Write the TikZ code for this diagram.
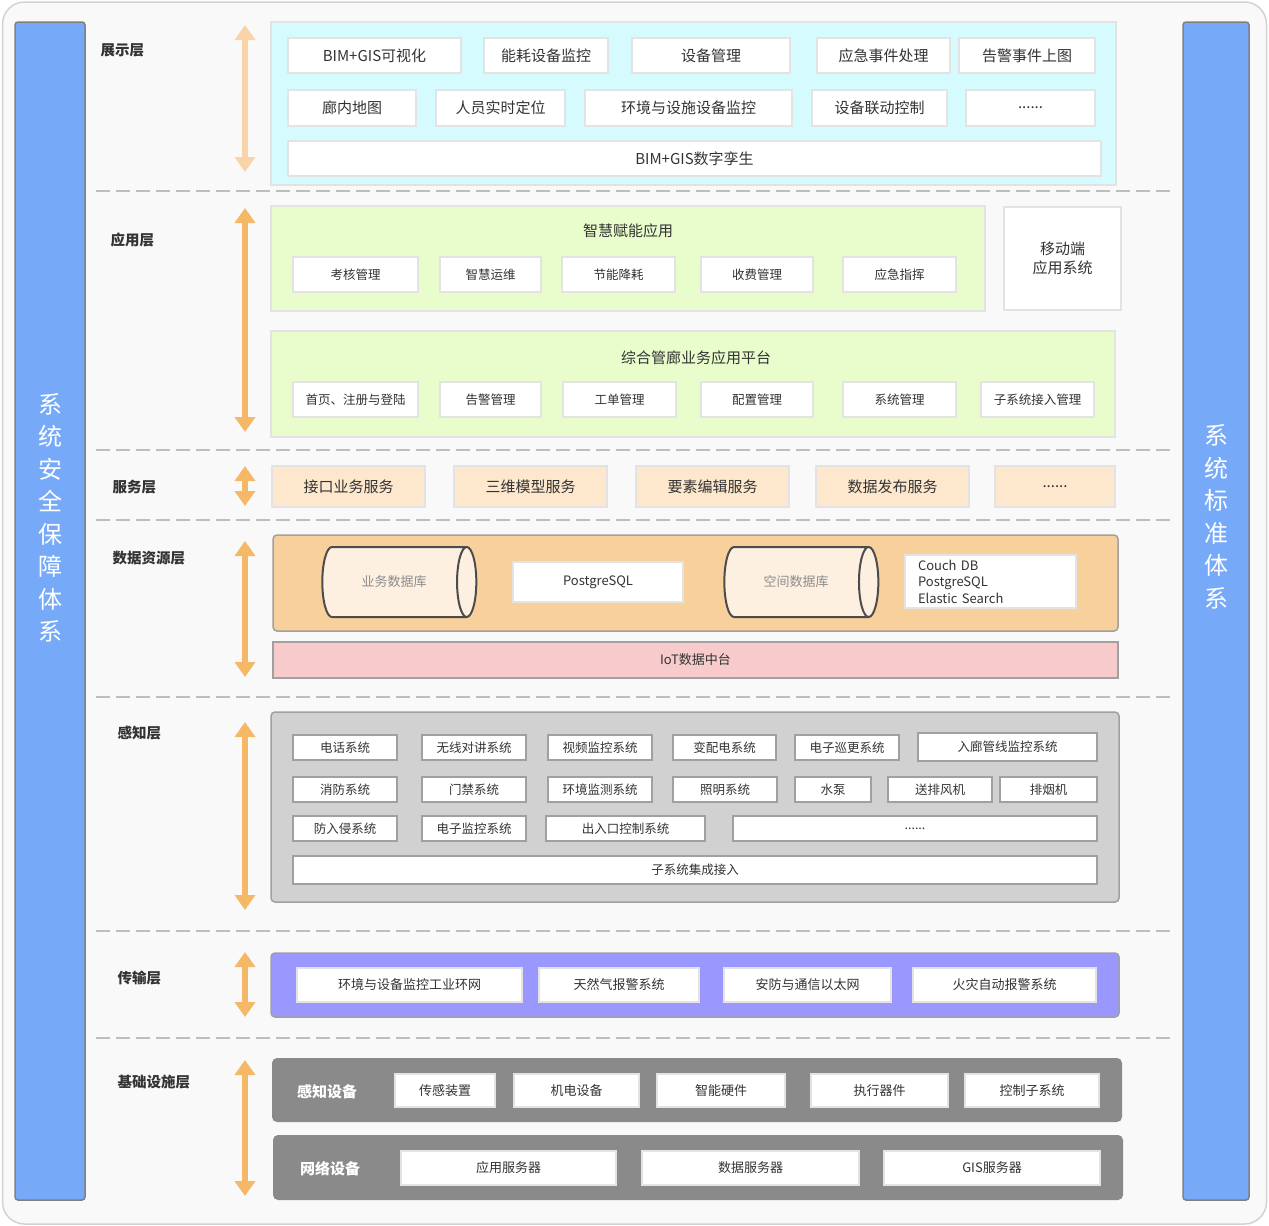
\documentclass[tikz,border=0pt]{standalone}
\usepackage{fontspec}
\setmainfont{Noto Sans CJK SC}
\usetikzlibrary{arrows.meta,shapes.geometric}

\definecolor{bgcol}{HTML}{F9F9F9}
\definecolor{framecol}{HTML}{D2D2D2}
\definecolor{barblue}{HTML}{76AAF9}
\definecolor{bargray}{HTML}{808080}
\definecolor{showcyan}{HTML}{D6FBFE}
\definecolor{appgreen}{HTML}{E9FDCC}
\definecolor{svcpeach}{HTML}{FDE7CD}
\definecolor{dataorange}{HTML}{F8D09B}
\definecolor{cylfill}{HTML}{FDF0E1}
\definecolor{iotpink}{HTML}{F7CBCB}
\definecolor{sensegray}{HTML}{D1D1D1}
\definecolor{netpurple}{HTML}{9A98FE}
\definecolor{infragray}{HTML}{8A8A8A}
\definecolor{arrorange}{HTML}{F4B867}
\definecolor{arrlight}{HTML}{F8D4A8}
\definecolor{lightline}{HTML}{E3E3E3}
\definecolor{darkline}{HTML}{A0A0A0}
\definecolor{sepgray}{HTML}{BDBDBD}
\definecolor{txt}{HTML}{333333}
\newcommand\moredots{......}

\begin{document}
\begin{tikzpicture}[x=1pt,y=-1pt,
    panel/.style={rectangle,inner sep=0pt,line width=1.5pt},
    wbox/.style={rectangle,draw=lightline,fill=white,line width=2pt,inner sep=0pt,text=txt,font=\fontsize{15}{18}\selectfont},
    sbox/.style={wbox,font=\fontsize{12.5}{15}\selectfont},
    gbox/.style={wbox,draw=darkline,font=\fontsize{12.5}{15}\selectfont},
    layer/.style={anchor=west,text=txt,font=\bfseries\fontsize{14.5}{17}\selectfont},
    updown/.style={{Triangle[width=20pt,length=15pt]}-{Triangle[width=20pt,length=15pt]},line width=6pt,draw=arrorange},
    sepline/.style={draw=sepgray,line width=2pt,dash pattern=on 14pt off 6pt},
    sidebar/.style={rectangle,draw=bargray,fill=barblue,line width=1.5pt,rounded corners=3pt,minimum width=70pt,minimum height=1178pt},
    db/.style={cylinder,draw=black!70,fill=cylfill,line width=2pt,aspect=1.6,minimum height=154pt,minimum width=70pt,inner sep=0pt,text=black!45,font=\fontsize{13}{15}\selectfont}]

    \useasboundingbox (0,0) rectangle (1269,1226);
    \node[rectangle,draw=framecol,fill=bgcol,line width=1.5pt,rounded corners=22pt,minimum width=1264pt,minimum height=1222pt] (frame) at (634.5,613) {};

    % side bars
    \node[sidebar] (safety) at (50,611) {};
    \node[sidebar,minimum width=66pt] (standard) at (1216,611) {};
    \node[text=white,align=center,font=\fontsize{24}{32.5}\selectfont] (safetytxt) at (50,518) {系\\统\\安\\全\\保\\障\\体\\系};
    \node[text=white,align=center,font=\fontsize{24}{32.5}\selectfont] (standardtxt) at (1216,517) {系\\统\\标\\准\\体\\系};

    % layer names
    \node[layer] (lshow) at (97,50) {展示层};
    \node[layer] (lapp) at (107,240) {应用层};
    \node[layer] (lsvc) at (109,487) {服务层};
    \node[layer] (ldata) at (109,558) {数据资源层};
    \node[layer] (lsense) at (114,733) {感知层};
    \node[layer] (lnet) at (114,978) {传输层};
    \node[layer] (linfra) at (114,1082) {基础设施层};

    % separators
    \foreach \y [count=\i] in {191,450,520,697,931,1038} {
        \coordinate (sepL\i) at (96,\y);
        \coordinate (sepR\i) at (1170,\y);
        \draw[sepline] (sepL\i) -- (sepR\i);
    }

    % layer arrows
    \foreach \a/\b [count=\i] in {25/172,208/432,466/506,541/677,722/910,952/1017,1060/1196} {
        \coordinate (arrT\i) at (245,\a);
        \coordinate (arrB\i) at (245,\b);
    }
    \draw[updown,draw=arrlight] (arrT1) -- (arrB1);
    \foreach \i in {2,...,7} \draw[updown] (arrT\i) -- (arrB\i);

    % presentation layer
    \node[panel,draw=lightline,fill=showcyan,minimum width=845pt,minimum height=163pt] (show) at (693.5,103.5) {};
    \foreach \n/\cx/\w/\t in {d1/374.5/173/BIM+GIS可视化,d2/546/124/能耗设备监控,d3/711/158/设备管理,d4/883.5/133/应急事件处理,d5/1027/136/告警事件上图}
        \node[wbox,minimum width=\w,minimum height=35pt] (\n) at (\cx,55.5) {\t};
    \foreach \n/\cx/\w/\t in {d6/352/128/廊内地图,d7/500.5/129/人员实时定位,d8/688.5/207/环境与设施设备监控,d9/879.5/135/设备联动控制,d10/1030.5/129/\moredots}
        \node[wbox,minimum width=\w,minimum height=36pt] (\n) at (\cx,108) {\t};
    \node[wbox,minimum width=813pt,minimum height=35pt] (twin) at (694.5,158.5) {BIM+GIS数字孪生};

    % application layer
    \node[panel,draw=lightline,fill=appgreen,minimum width=714pt,minimum height=105pt] (smart) at (628,258.5) {};
    \node[text=txt,font=\fontsize{15}{18}\selectfont] (smarttitle) at (628,231) {智慧赋能应用};
    \foreach \n/\cx/\w/\t in {a1/355.5/125/考核管理,a2/490.5/101/智慧运维,a3/618.5/113/节能降耗,a4/757/112/收费管理,a5/899.5/113/应急指挥}
        \node[sbox,minimum width=\w,minimum height=35pt] (\n) at (\cx,274.5) {\t};
    \node[wbox,align=center,minimum width=117pt,minimum height=103pt,font=\fontsize{15}{19}\selectfont] (mobile) at (1062.5,258.5) {移动端\\应用系统};
    \node[panel,draw=lightline,fill=appgreen,minimum width=844pt,minimum height=106pt] (platform) at (693,384) {};
    \node[text=txt,font=\fontsize{15}{18}\selectfont] (platformtitle) at (696,358) {综合管廊业务应用平台};
    \foreach \n/\cx/\w/\t in {p1/355.5/125/首页、注册与登陆,p2/490.5/101/告警管理,p3/619.5/113/工单管理,p4/757/112/配置管理,p5/899.5/113/系统管理,p6/1037.5/113/子系统接入管理}
        \node[sbox,minimum width=\w,minimum height=35pt] (\n) at (\cx,399.5) {\t};

    % service layer
    \foreach \n/\cx/\w/\t in {s1/348.5/153/接口业务服务,s2/530.5/153/三维模型服务,s3/712.5/153/要素编辑服务,s4/892.5/153/数据发布服务,s5/1055/120/\moredots}
        \node[wbox,fill=svcpeach,minimum width=\w,minimum height=41pt] (\n) at (\cx,486.5) {\t};

    % data resource layer
    \node[panel,draw=darkline,fill=dataorange,rounded corners=4pt,minimum width=845pt,minimum height=96pt] (data) at (695.5,583) {};
    \node[db] (bizdb) at (394,582) {业务数据库};
    \node[wbox,minimum width=170pt,minimum height=40pt,font=\fontsize{13}{15}\selectfont] (pg) at (598,582) {PostgreSQL};
    \node[db] (geodb) at (796,582) {空间数据库};
    \node[wbox,align=left,text width=145pt,minimum width=171pt,minimum height=53pt,font=\fontsize{13}{16.5}\selectfont] (nosql) at (990.5,581.5) {Couch DB\\PostgreSQL\\Elastic Search};
    \node[panel,draw=darkline,fill=iotpink,minimum width=845pt,minimum height=36pt,text=txt,font=\fontsize{13}{15}\selectfont] (iot) at (695.5,660) {IoT数据中台};

    % sensing layer
    \node[panel,draw=darkline,fill=sensegray,rounded corners=4pt,minimum width=848pt,minimum height=190pt] (sense) at (695,807) {};
    \foreach \n/\cx/\w/\t in {g1/345/104/电话系统,g2/474/104/无线对讲系统,g3/600/104/视频监控系统,g4/724.5/103/变配电系统,g5/847/104/电子巡更系统}
        \node[gbox,minimum width=\w,minimum height=25pt] (\n) at (\cx,747.5) {\t};
    \node[gbox,minimum width=179pt,minimum height=28pt] (g6) at (1007.5,747) {入廊管线监控系统};
    \foreach \n/\cx/\w/\t in {g7/345/104/消防系统,g8/474/104/门禁系统,g9/600/104/环境监测系统,g10/725/104/照明系统,g11/833/76/水泵,g12/940/104/送排风机,g13/1048.5/97/排烟机}
        \node[gbox,minimum width=\w,minimum height=25pt] (\n) at (\cx,789.5) {\t};
    \foreach \n/\cx/\w/\t in {g14/345/104/防入侵系统,g15/474/104/电子监控系统,g16/625.5/159/出入口控制系统,g17/915/364/\moredots}
        \node[gbox,minimum width=\w,minimum height=25pt] (\n) at (\cx,828.5) {\t};
    \node[gbox,minimum width=804pt,minimum height=28pt] (integ) at (695,870) {子系统集成接入};

    % transmission layer
    \node[panel,draw=darkline,fill=netpurple,rounded corners=4pt,minimum width=848pt,minimum height=64pt] (net) at (695,985) {};
    \foreach \n/\cx/\w/\t in {t1/409.5/225/环境与设备监控工业环网,t2/619/160/天然气报警系统,t3/807.5/167/安防与通信以太网,t4/1004.5/183/火灾自动报警系统}
        \node[wbox,minimum width=\w,minimum height=34pt,font=\fontsize{13}{15}\selectfont] (\n) at (\cx,985) {\t};

    % infrastructure layer
    \node[panel,fill=infragray,rounded corners=5pt,minimum width=850pt,minimum height=64pt] (device) at (697,1090) {};
    \node[text=white,font=\bfseries\fontsize{15}{18}\selectfont] (devicetitle) at (327,1092) {感知设备};
    \foreach \n/\cx/\w/\t in {i1/445/100/传感装置,i2/576.5/125/机电设备,i3/721/128/智能硬件,i4/879.5/137/执行器件,i5/1032/134/控制子系统}
        \node[wbox,minimum width=\w,minimum height=33pt,font=\fontsize{13}{15}\selectfont] (\n) at (\cx,1090.5) {\t};
    \node[panel,fill=infragray,rounded corners=5pt,minimum width=850pt,minimum height=65pt] (network) at (698,1167.5) {};
    \node[text=white,font=\bfseries\fontsize{15}{18}\selectfont] (networktitle) at (330,1169) {网络设备};
    \foreach \n/\cx/\w/\t in {n1/508.5/215/应用服务器,n2/750.5/217/数据服务器,n3/992/216/GIS服务器}
        \node[wbox,minimum width=\w,minimum height=34pt,font=\fontsize{13}{15}\selectfont] (\n) at (\cx,1168) {\t};
\end{tikzpicture}
\end{document}
